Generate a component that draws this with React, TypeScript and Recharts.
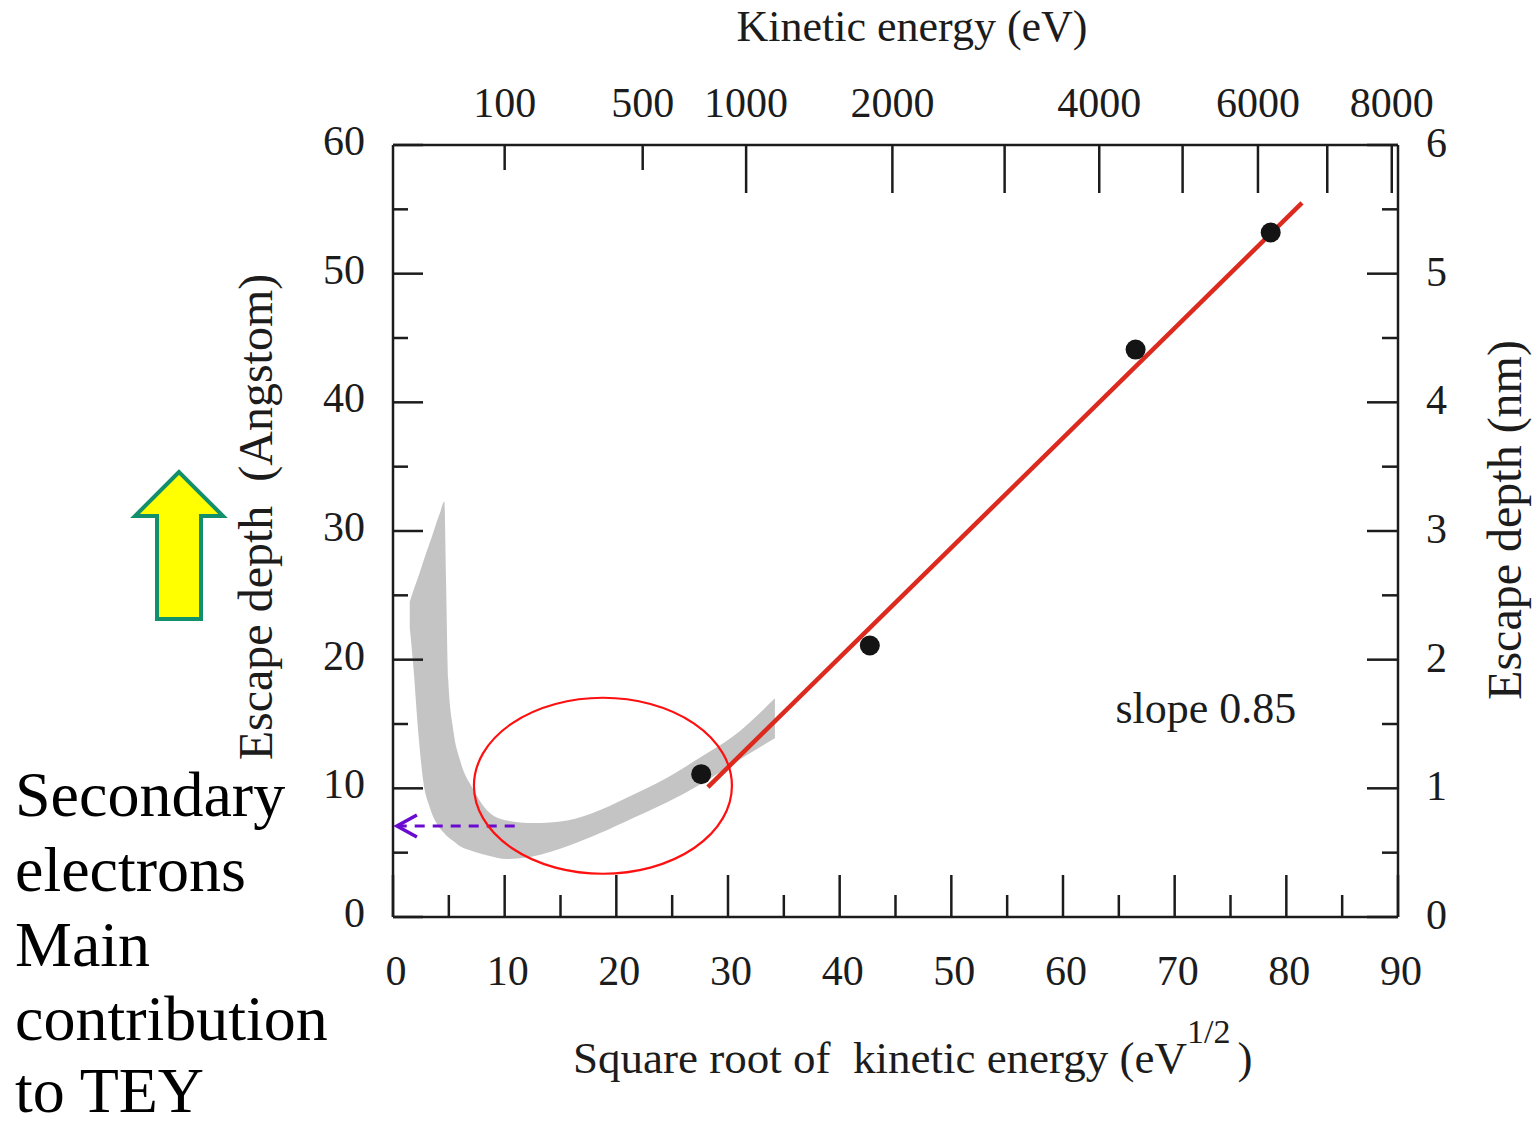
import { ComposedChart, XAxis, YAxis, Area, Line, Scatter, ReferenceDot, ReferenceLine } from 'recharts';

const FONT = '"Liberation Serif", "Times New Roman", serif';
const INK = '#1c1c1c';

// axis ticks
const sqrtTicks = [0, 5, 10, 15, 20, 25, 30, 35, 40, 45, 50, 55, 60, 65, 70, 75, 80, 85, 90];
const angstromTicks = [0, 5, 10, 15, 20, 25, 30, 35, 40, 45, 50, 55, 60];
const nmTicks = [0, 0.5, 1, 1.5, 2, 2.5, 3, 3.5, 4, 4.5, 5, 5.5, 6];
const energyTicks = [100, 500, 1000, 2000, 3000, 4000, 5000, 6000, 7000, 8000];
const energyLabels = ['100', '500', '1000', '2000', '', '4000', '', '6000', '', '8000'];
const shortEnergyTicks = [100, 500];

// measured escape depths
const measX = [27.6, 42.7, 66.5, 78.6];
const measY = [11.1, 21.1, 44.1, 53.2];

// linear fit, slope 0.85
const fitX = [28.2, 81.4];
const fitY = [10.1, 55.5];

// universal curve band (low / high edge)
const bandX = [1.5, 1.8, 2.25, 2.7, 3.3, 4.2, 4.6, 4.75, 4.95, 5.4, 6.0, 7.2, 8.4, 10.2, 12.5, 15.6, 18.5, 21.5, 24.5, 27.5, 30.4, 34.2];
const bandLow = [22.5, 19.7, 14.5, 10.6, 8.5, 6.9, 6.5, 6.35, 6.2, 5.9, 5.5, 5.1, 4.8, 4.5, 4.7, 5.5, 6.5, 7.7, 8.9, 10.3, 11.9, 13.9];
const bandHigh = [24.5, 25.3, 26.4, 27.6, 29.1, 31.4, 32.3, 26.2, 18.4, 14.5, 12.2, 9.9, 8.3, 7.5, 7.3, 7.5, 8.3, 9.5, 10.8, 12.4, 14.0, 17.0];

const measRows = measX.map((x, i) => ({ x, y: measY[i] }));
const fitRows = fitX.map((x, i) => ({ x, y: fitY[i] }));
const bandRows = bandX.map((x, i) => ({ x, range: [bandLow[i], bandHigh[i]] }));

function BottomTick({ x, y, payload }: any) {
  const major = payload.value % 10 === 0;
  return (
    <g>
      <line x1={x} y1={y} x2={x} y2={y - (major ? 42 : 22)} stroke={INK} strokeWidth={2.5} />
      {major && (
        <text x={x + 3} y={y + 68} textAnchor="middle" fontSize={42} fill={INK} fontFamily={FONT}>
          {payload.value}
        </text>
      )}
    </g>
  );
}

function TopTick({ x, y, payload }: any) {
  const energy = Math.round(payload.value * payload.value);
  const idx = energyTicks.indexOf(energy);
  const label = idx >= 0 ? energyLabels[idx] : '';
  const len = shortEnergyTicks.includes(energy) ? 25 : 48;
  return (
    <g>
      <line x1={x} y1={y} x2={x} y2={y + len} stroke={INK} strokeWidth={2.5} />
      {label && (
        <text x={x} y={y - 28} textAnchor="middle" fontSize={42} fill={INK} fontFamily={FONT}>
          {label}
        </text>
      )}
    </g>
  );
}

function LeftTick({ x, y, payload }: any) {
  const major = payload.value % 10 === 0;
  return (
    <g>
      <line x1={x} y1={y} x2={x + (major ? 30 : 15)} y2={y} stroke={INK} strokeWidth={2.5} />
      {major && (
        <text x={x - 28} y={y + 10} textAnchor="end" fontSize={42} fill={INK} fontFamily={FONT}>
          {payload.value}
        </text>
      )}
    </g>
  );
}

function RightTick({ x, y, payload }: any) {
  const major = Number.isInteger(payload.value);
  return (
    <g>
      <line x1={x} y1={y} x2={x - (major ? 31 : 16)} y2={y} stroke={INK} strokeWidth={2.5} />
      {major && (
        <text x={x + 28} y={y + 12} textAnchor="start" fontSize={42} fill={INK} fontFamily={FONT}>
          {payload.value}
        </text>
      )}
    </g>
  );
}

function DashedArrow(props: any) {
  const { x1, y1, x2, y2 } = props;
  const tipX = Math.min(x1, x2);
  const tailX = Math.max(x1, x2);
  const yy = y1 ?? y2;
  return (
    <g>
      <line x1={tailX} y1={yy} x2={tipX + 3} y2={yy} stroke="#6a0ad0" strokeWidth={3} strokeDasharray="10 8" />
      <polyline
        points={`${tipX + 20},${yy - 11} ${tipX},${yy} ${tipX + 20},${yy + 11}`}
        fill="none"
        stroke="#6a0ad0"
        strokeWidth={3.5}
      />
    </g>
  );
}

export default function App() {
  const axisLine = { stroke: INK, strokeWidth: 2.5 };
  return (
    <div style={{ position: 'absolute', left: 0, top: 0, width: 1535, height: 1128, background: '#fff', fontFamily: FONT }}>
      <ComposedChart width={1535} height={1128} margin={{ top: 85, right: 57, bottom: 151, left: 313 }}>
        <XAxis
          dataKey="x"
          type="number"
          domain={[0, 90]}
          ticks={sqrtTicks}
          interval={0}
          tickSize={0}
          tickMargin={0}
          tickLine={false}
          axisLine={axisLine}
          tick={<BottomTick />}
          height={60}
          allowDataOverflow
        />
        <XAxis
          xAxisId="top"
          dataKey="x"
          orientation="top"
          type="number"
          domain={[0, 90]}
          ticks={energyTicks.map((e) => Math.sqrt(e))}
          interval={0}
          tickSize={0}
          tickMargin={0}
          tickLine={false}
          axisLine={axisLine}
          tick={<TopTick />}
          height={60}
          allowDataOverflow
        />
        <YAxis
          type="number"
          domain={[0, 60]}
          ticks={angstromTicks}
          interval={0}
          tickSize={0}
          tickMargin={0}
          tickLine={false}
          axisLine={axisLine}
          tick={<LeftTick />}
          width={80}
          allowDataOverflow
        />
        <YAxis
          yAxisId="nm"
          orientation="right"
          type="number"
          domain={[0, 6]}
          ticks={nmTicks}
          interval={0}
          tickSize={0}
          tickMargin={0}
          tickLine={false}
          axisLine={axisLine}
          tick={<RightTick />}
          width={80}
          allowDataOverflow
        />

        <Area
          data={bandRows}
          dataKey="range"
          type="monotone"
          stroke="none"
          fill="#c4c4c4"
          fillOpacity={1}
          isAnimationActive={false}
          dot={false}
          activeDot={false}
        />

        <ReferenceDot
          x={18.8}
          y={10.2}
          r={0}
          shape={(p: any) => <ellipse cx={p.cx} cy={p.cy} rx={129} ry={88} fill="none" stroke="#ff1010" strokeWidth={2.2} />}
        />

        {/* invisible series so the kinetic-energy axis gets its scale */}
        <Line
          xAxisId="top"
          data={fitRows}
          dataKey="y"
          stroke="transparent"
          strokeOpacity={0}
          dot={false}
          activeDot={false}
          isAnimationActive={false}
        />

        <Line
          data={fitRows}
          dataKey="y"
          type="linear"
          stroke="#dc2a1e"
          strokeWidth={4.5}
          dot={false}
          activeDot={false}
          isAnimationActive={false}
        />

        <Scatter
          data={measRows}
          dataKey="y"
          fill="#141414"
          isAnimationActive={false}
          shape={(p: any) => <circle cx={p.cx} cy={p.cy} r={10} fill="#141414" />}
        />

        <ReferenceLine
          segment={[{ x: 10.9, y: 7.07 }, { x: 0.35, y: 7.07 }]}
          shape={<DashedArrow />}
        />

        <ReferenceDot
          x={64.7}
          y={15.1}
          r={0}
          shape={(p: any) => (
            <text x={p.cx} y={p.cy} fontSize={44} fill={INK} fontFamily={FONT}>
              slope 0.85
            </text>
          )}
        />
      </ComposedChart>

      <svg width={1535} height={1128} style={{ position: 'absolute', left: 0, top: 0, pointerEvents: 'none' }}>
        <text x={912} y={41} textAnchor="middle" fontSize={44} fill={INK} fontFamily={FONT}>
          Kinetic energy (eV)
        </text>
        <text x={573} y={1073} fontSize={45} fill={INK} fontFamily={FONT} style={{ whiteSpace: 'pre' }}>
          Square root of  kinetic energy (eV
          <tspan dy={-30} fontSize={34}>1/2</tspan>
          <tspan dy={30} dx={7} fontSize={45}>)</tspan>
        </text>
        <text transform="translate(272,517) rotate(-90)" textAnchor="middle" fontSize={48} fill={INK} fontFamily={FONT} style={{ whiteSpace: 'pre' }}>
          Escape depth  (Angstom)
        </text>
        <text transform="translate(1521,520) rotate(-90)" textAnchor="middle" fontSize={48} fill={INK} fontFamily={FONT}>
          Escape depth (nm)
        </text>

        <polygon
          points="179,472 135,516 157,516 157,619 201,619 201,516 223,516"
          fill="#ffff00"
          stroke="#12906c"
          strokeWidth={4}
          strokeLinejoin="miter"
        />

        <g fontSize={64} fill="#000" fontFamily={FONT}>
          <text x={15} y={816}>Secondary</text>
          <text x={15} y={891}>electrons</text>
          <text x={15} y={966}>Main</text>
          <text x={15} y={1040}>contribution</text>
          <text x={15} y={1112}>to TEY</text>
        </g>
      </svg>
    </div>
  );
}
